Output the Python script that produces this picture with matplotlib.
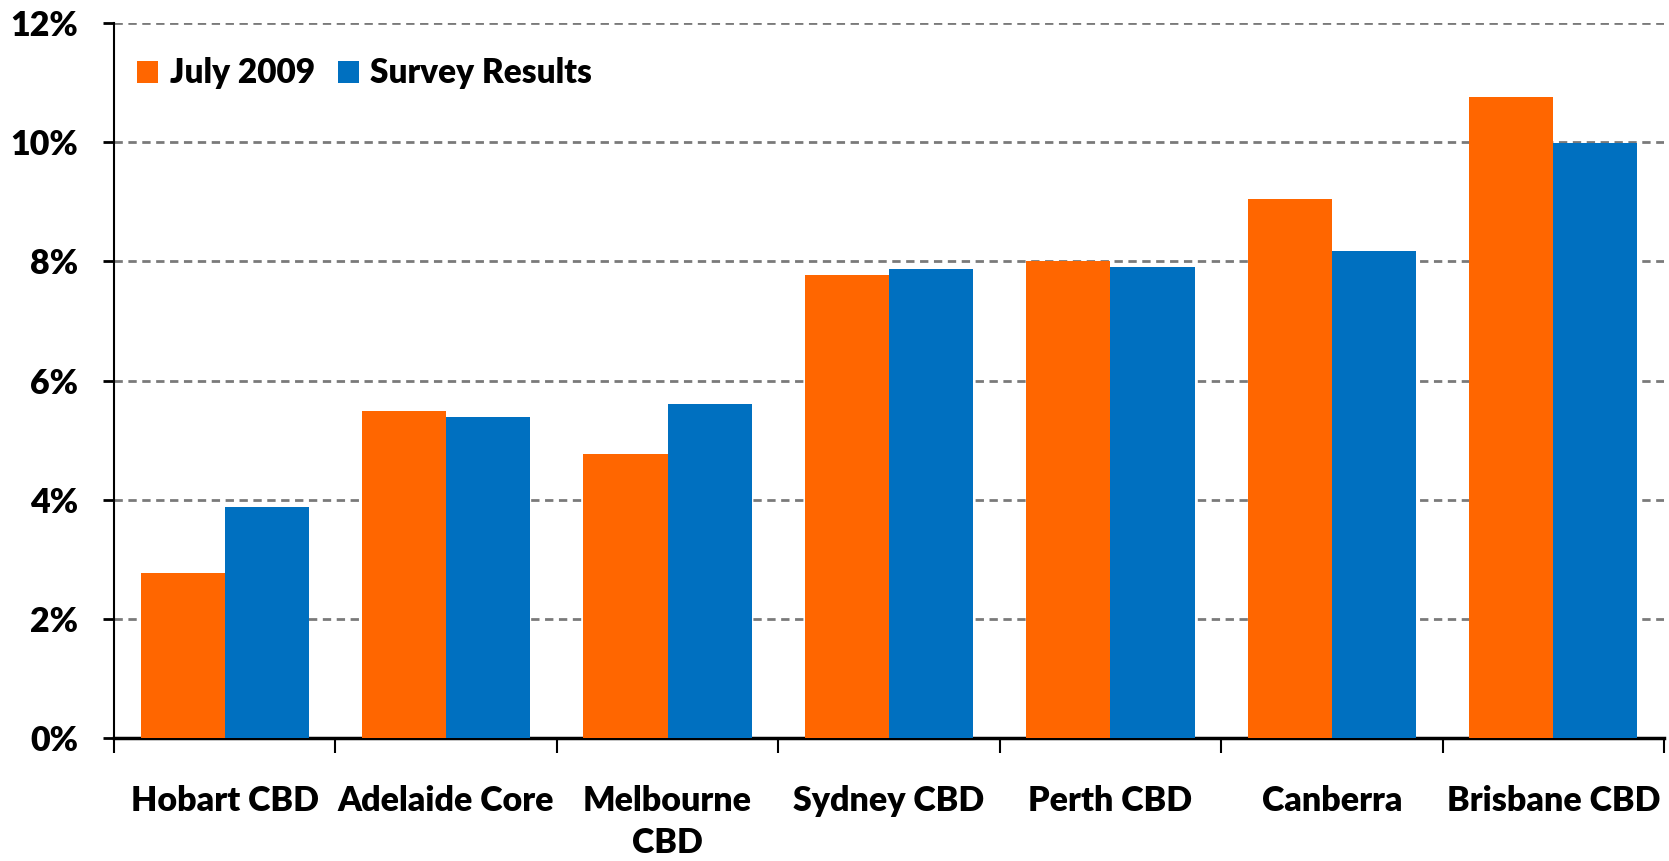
import matplotlib
matplotlib.use("Agg")
import matplotlib.pyplot as plt
import numpy as np
from matplotlib.ticker import FuncFormatter, MultipleLocator, FixedLocator

categories = ["Hobart CBD", "Adelaide Core", "Melbourne\nCBD", "Sydney CBD",
              "Perth CBD", "Canberra", "Brisbane CBD"]
july_2009 = [2.77, 5.49, 4.76, 7.77, 8.01, 9.05, 10.76]
survey_results = [3.88, 5.39, 5.60, 7.88, 7.91, 8.17, 9.99]
series_names = ["July 2009", "Survey Results"]
colors = ["#FF6600", "#0070C0"]

plt.rcParams['font.family'] = ['Lato', 'DejaVu Sans']
plt.rcParams['font.weight'] = 800

fig = plt.figure(figsize=(16.69, 8.61), dpi=100)
ax = fig.add_axes([0.0683, 0.1433, 0.9287, 0.8295])

x = np.arange(len(categories))
w = 0.38
ax.bar(x - w/2, july_2009, width=w, color=colors[0], label=series_names[0], zorder=3)
ax.bar(x + w/2, survey_results, width=w, color=colors[1], label=series_names[1], zorder=3)

ax.set_xlim(-0.5, len(categories) - 0.5)
ax.set_ylim(0, 12)
ax.yaxis.set_major_locator(MultipleLocator(2))
ax.yaxis.set_major_formatter(FuncFormatter(lambda v, p: f"{v:.0f}%"))
ax.grid(axis='y', color='#7a7a7a', linestyle=(0, (3, 2)), linewidth=2.0, zorder=0)

ax.set_xticks(x)
ax.set_xticklabels(categories, fontsize=24.5, fontweight=800, linespacing=1.4)
ax.xaxis.set_minor_locator(FixedLocator(np.arange(-0.5, len(categories), 1.0)))
ax.tick_params(axis='x', which='major', length=0, pad=34)
ax.tick_params(axis='x', which='minor', length=11, width=1.5, direction='out')
ax.tick_params(axis='y', which='major', length=8, width=2, pad=18, labelsize=24.5)
for t in ax.get_yticklabels():
    t.set_fontweight(800)

for s in ['top', 'right']:
    ax.spines[s].set_visible(False)
ax.spines['left'].set_linewidth(1.5)
ax.spines['bottom'].set_linewidth(2.5)

leg = ax.legend(loc='upper left', bbox_to_anchor=(0.0, 0.985), ncol=2, frameon=False,
                prop={'size': 24, 'weight': 800}, handlelength=0.62, handleheight=0.62,
                handletextpad=0.35, columnspacing=0.7, borderaxespad=0.3)

fig.savefig("out.png", dpi=100)
